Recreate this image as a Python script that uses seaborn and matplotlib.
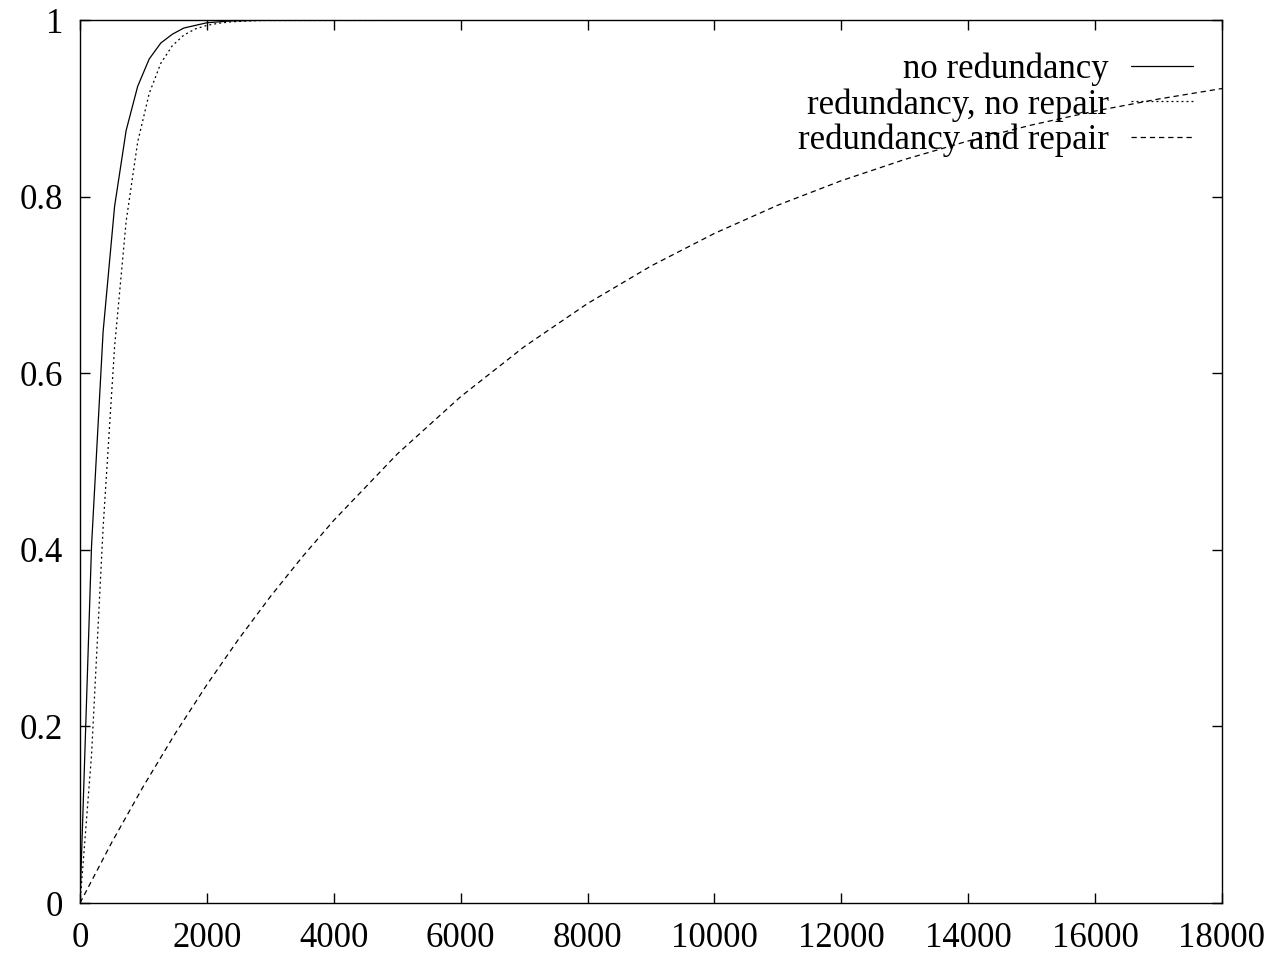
import pandas as pd
import seaborn as sns
from matplotlib import pyplot as plt

# values
t_fast = [0, 182, 364, 545, 727, 909, 1091, 1273, 1455, 1636, 1818, 2000,
          2182, 2364, 2545, 2727, 2909, 18000]
noRedundancy = [0.0, 0.405, 0.647, 0.789, 0.875, 0.925, 0.956, 0.974, 0.984, 0.991,
                0.994, 0.997, 0.998, 0.999, 0.9993, 0.9996, 0.9998, 1.0]
redundancyNoRepair = [0.0, 0.168, 0.425, 0.630, 0.772, 0.862, 0.917, 0.951, 0.971, 0.983,
                      0.990, 0.994, 0.9964, 0.9979, 0.9987, 0.9993, 0.9996, 1.0]

t_slow = [0, 500, 1000, 1500, 2000, 2500, 3000, 3500, 4000, 5000, 6000, 7000, 8000,
          9000, 10000, 11000, 12000, 13000, 14000, 15000, 16000, 17000, 18000]
redundancyAndRepair = [0.0, 0.0686, 0.1324, 0.1919, 0.2473, 0.2989, 0.3470, 0.3917, 0.4334,
                       0.5085, 0.5735, 0.6300, 0.6790, 0.7215, 0.7584, 0.7904, 0.8181,
                       0.8422, 0.8631, 0.8812, 0.8970, 0.9106, 0.9225]

xTicks = [0, 2000, 4000, 6000, 8000, 10000, 12000, 14000, 16000, 18000]
yTicks = [0, 0.2, 0.4, 0.6, 0.8, 1]
yTickLabels = ['0', '0.2', '0.4', '0.6', '0.8', '1']

sns.set_theme(style='ticks')
plt.rcParams['font.family'] = ['Liberation Serif', 'DejaVu Serif']
plt.rcParams['text.color'] = 'black'
plt.rcParams['lines.scale_dashes'] = False

fastDF = pd.DataFrame({'t': t_fast, 'a': noRedundancy, 'b': redundancyNoRepair})
slowDF = pd.DataFrame({'t': t_slow, 'c': redundancyAndRepair})

fig, ax = plt.subplots(figsize=(12.7, 9.57), dpi=100)
fig.subplots_adjust(left=0.063, right=0.9622, bottom=0.0564, top=0.979)

sns.lineplot(data=fastDF, x='t', y='a', ax=ax, color='black', lw=0.9,
             label='no redundancy')
sns.lineplot(data=fastDF, x='t', y='b', ax=ax, color='black', lw=0.9,
             linestyle=(0, (1.4, 2.2)), label='redundancy, no repair')
sns.lineplot(data=slowDF, x='t', y='c', ax=ax, color='black', lw=0.9,
             linestyle=(0, (3.8, 2.8)), label='redundancy and repair')

ax.set_xlim(0, 18000)
ax.set_ylim(0, 1)
ax.set_xticks(xTicks)
ax.set_xticklabels([str(v) for v in xTicks])
ax.set_yticks(yTicks)
ax.set_yticklabels(yTickLabels)
ax.set_xlabel('')
ax.set_ylabel('')
ax.tick_params(axis='both', direction='in', length=7.2, width=1.0, color='black',
               labelsize=25, labelcolor='black', top=True, right=True)
ax.tick_params(axis='x', pad=14)
ax.tick_params(axis='y', pad=12)
for sp in ax.spines.values():
    sp.set_visible(True)
    sp.set_color('black')
    sp.set_linewidth(1.0)

leg = ax.legend(loc='upper right', bbox_to_anchor=(0.975, 0.963), frameon=False,
                markerfirst=False, fontsize=25, handlelength=1.8, handletextpad=0.63,
                labelspacing=0.05, borderaxespad=0, borderpad=0)

fig.savefig('out.png', dpi=100)
